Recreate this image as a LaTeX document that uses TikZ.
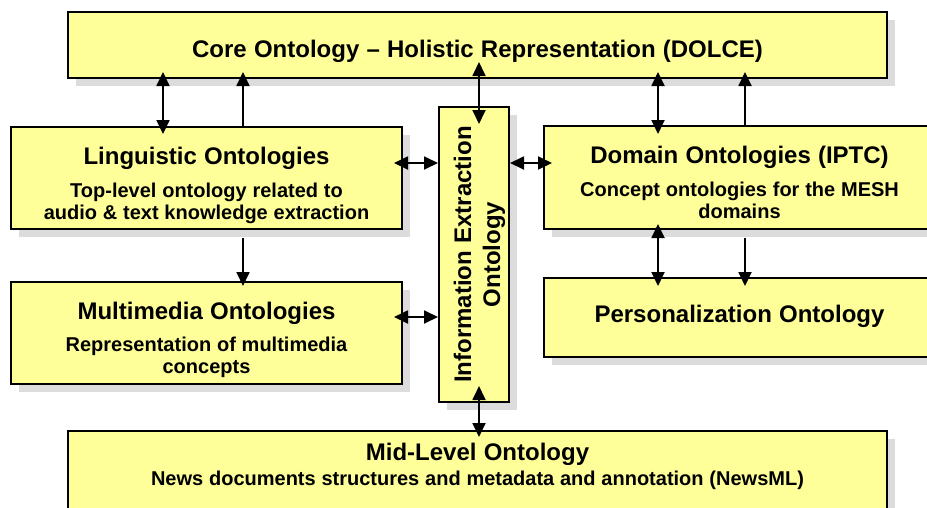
\documentclass[tikz,border=0pt]{standalone}
\usepackage{fontspec}
\setmainfont{Liberation Sans}
\usetikzlibrary{arrows.meta, shadows}

\definecolor{boxfill}{HTML}{FFFF99}
\definecolor{boxshade}{HTML}{DCDCDC}

\newcommand{\headfont}{\fontsize{24}{29}\selectfont\spaceskip=0.3em\relax}
\newcommand{\notefont}{\fontsize{20}{22}\selectfont\spaceskip=0.29em\relax}

\tikzstyle{box} = [
    rectangle,
    draw=black,
    line width=2pt,
    fill=boxfill,
    drop shadow={shadow xshift=8pt, shadow yshift=-8pt, fill=boxshade, opacity=1}
]
\tikzstyle{boxtext} = [
    anchor=base,
    align=center,
    inner sep=0pt,
    font=\bfseries
]
\tikzstyle{arrow} = [line width=1.8pt, -{Triangle[width=13pt,length=14pt]}]
\tikzstyle{twoway} = [line width=1.8pt,
    {Triangle[width=13pt,length=14pt]}-{Triangle[width=13pt,length=14pt]}]

\begin{document}
\begin{tikzpicture}[x=1pt, y=-1pt]

\useasboundingbox (0,0) rectangle (927,507);
\clip (0,0) rectangle (927,507);

% ontology boxes
\node (core) [box, minimum width=819pt, minimum height=66pt] at (477.5,45) {};
\node (ling) [box, minimum width=391pt, minimum height=102pt] at (206.5,178) {};
\node (mm) [box, minimum width=391pt, minimum height=102pt] at (206.5,333) {};
\node (ie) [box, minimum width=70pt, minimum height=295pt] at (474,254.5) {};
\node (dom) [box, minimum width=391pt, minimum height=103pt] at (739.5,177.5) {};
\node (pers) [box, minimum width=391pt, minimum height=79pt] at (739.5,317.5) {};
\node (mid) [box, minimum width=819pt, minimum height=89pt] at (477.5,475.5) {};

% box texts
\node (coretext) [boxtext, text width=800pt] at (477.5,57)
{\headfont Core Ontology -- Holistic Representation (DOLCE)\par};

\node (lingtext) [boxtext, text width=380pt] at (206.5,164.5)
{\headfont Linguistic Ontologies\par\vspace{10.5pt}
\notefont Top-level ontology related to\\audio \& text knowledge extraction\par};

\node (mmtext) [boxtext, text width=380pt] at (206.5,319.5)
{\headfont Multimedia Ontologies\par\vspace{10pt}
\notefont Representation of multimedia\\concepts\par};

\node (ietext) [boxtext, text width=290pt, rotate=90] at (471,254.5)
{\headfont Information Extraction\\Ontology\par};

\node (domtext) [boxtext, text width=380pt] at (739.5,163.5)
{\headfont Domain Ontologies (IPTC)\par\vspace{11pt}
\notefont Concept ontologies for the MESH\\domains\par};

\node (perstext) [boxtext, text width=380pt] at (739.5,322.7)
{\headfont Personalization Ontology\par};

\node (midtext) [boxtext, text width=800pt] at (477.5,460)
{\headfont Mid-Level Ontology\par\vspace{3pt}
\notefont News documents structures and metadata and annotation (NewsML)\par};

% links to the core ontology
\draw [twoway, shorten <=-8pt, shorten >=-7pt]
    ([xshift=-43.5pt]ling.north) -- ([xshift=-43.5pt]ling.north |- core.south);
\draw [arrow, shorten >=-7pt]
    ([xshift=36.5pt]ling.north) -- ([xshift=36.5pt]ling.north |- core.south);
\draw [twoway, shorten <=-18pt, shorten >=-17pt]
    ([xshift=5pt]ie.north) -- ([xshift=5pt]ie.north |- core.south);
\draw [twoway, shorten <=-9pt, shorten >=-7pt]
    ([xshift=-81.5pt]dom.north) -- ([xshift=-81.5pt]dom.north |- core.south);
\draw [arrow, shorten >=-7pt]
    ([xshift=5.5pt]dom.north) -- ([xshift=5.5pt]dom.north |- core.south);

% links to the extraction ontology
\draw [twoway, shorten >=-9pt]
    ([yshift=91.5pt]ie.west) -- ([yshift=91.5pt]ie.west -| ling.east);
\draw [twoway, shorten >=-9pt]
    ([yshift=-62.5pt]ie.west) -- ([yshift=-62.5pt]ie.west -| mm.east);
\draw [twoway, shorten >=-9pt]
    ([yshift=91.5pt]ie.east) -- ([yshift=91.5pt]ie.east -| dom.west);
\draw [twoway, shorten <=-17pt, shorten >=-7pt]
    ([xshift=5pt]ie.south) -- ([xshift=5pt]ie.south |- mid.north);

% links going down
\draw [arrow, shorten <=8pt, shorten >=-5pt]
    ([xshift=36.5pt]ling.south) -- ([xshift=36.5pt]ling.south |- mm.north);
\draw [twoway, shorten <=-6pt, shorten >=-9pt]
    ([xshift=-81.5pt]dom.south) -- ([xshift=-81.5pt]dom.south |- pers.north);
\draw [arrow, shorten <=8pt, shorten >=-9pt]
    ([xshift=5.5pt]dom.south) -- ([xshift=5.5pt]dom.south |- pers.north);

\end{tikzpicture}
\end{document}
